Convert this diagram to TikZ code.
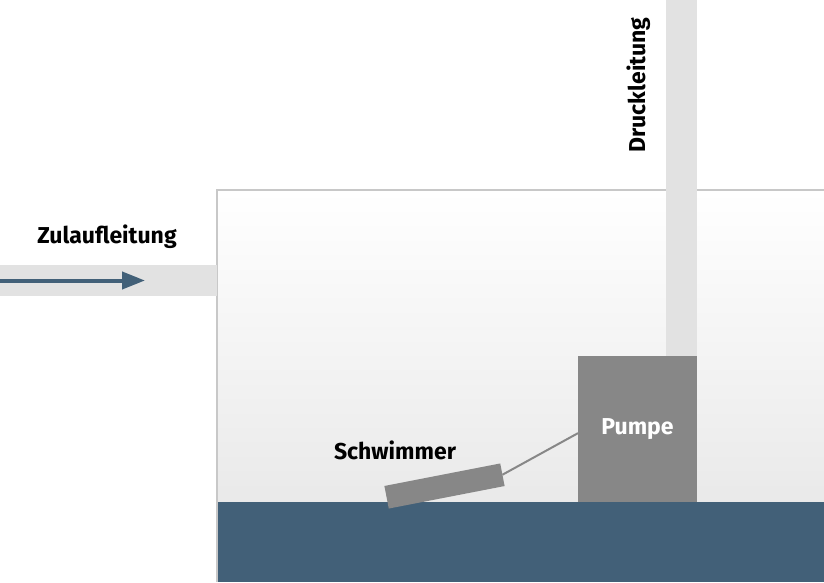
\documentclass[tikz,border=0pt]{standalone}
\usepackage{fontspec}
\setmainfont{Fira Sans}
\usetikzlibrary{positioning,arrows.meta}
\definecolor{wasser}{HTML}{426078}
\definecolor{rohr}{HTML}{E2E2E2}
\definecolor{grau}{HTML}{878787}
\definecolor{rand}{HTML}{C8C8C8}
\tikzset{
    bauteil/.style={fill=grau,inner sep=0pt,outer sep=0pt},
    leitung/.style={fill=rohr,inner sep=0pt,outer sep=0pt},
    beschriftung/.style={font=\fontsize{23}{26}\selectfont\bfseries,inner sep=0pt},
}

\begin{document}
\begin{tikzpicture}[x=1pt,y=1pt]
            \useasboundingbox (0,0) rectangle (824,582);
            \node[top color=white,bottom color=black!8.5,minimum width=607pt,minimum height=312pt,inner sep=0pt,outer sep=0pt] (tank) at (520.5,236) {};
            \node[fill=wasser,minimum width=607pt,minimum height=80.3pt,inner sep=0pt,outer sep=0pt,below=-0.3pt of tank] (water) {};
            \draw[rand,line width=1.5pt] (water.south west) -- (tank.north west) -- (tank.north east);
            \node[bauteil,minimum width=119pt,minimum height=146.3pt,font=\fontsize{23}{26}\selectfont\bfseries,text=white] (pump) at (637.5,152.85) {Pumpe};
            \node[leitung,minimum width=31pt,minimum height=356pt,anchor=south east] (druck) at (pump.north east) {};
            \node[leitung,minimum width=217pt,minimum height=31pt,anchor=east] (zulauf) at (217,301.5) {};
            \node[bauteil,minimum width=118pt,minimum height=23pt,rotate=11] (float) at (444.5,96) {};
            \draw[grau,line width=2pt] ([yshift=-4pt]pump.west) -- (float.east);
            \coordinate (tip) at (145,301.5);
            \draw[wasser,line width=4pt,-{Triangle[length=23pt,width=17pt]}] (zulauf.west) -- (tip);
            \node[beschriftung] (zulauftext) at (107,345.5) {Zulaufleitung};
            \node[beschriftung] (floattext) at (395,131.5) {Schwimmer};
            \node[beschriftung,rotate=90] (drucktext) at (639,497) {Druckleitung};
        \end{tikzpicture}
\end{document}
